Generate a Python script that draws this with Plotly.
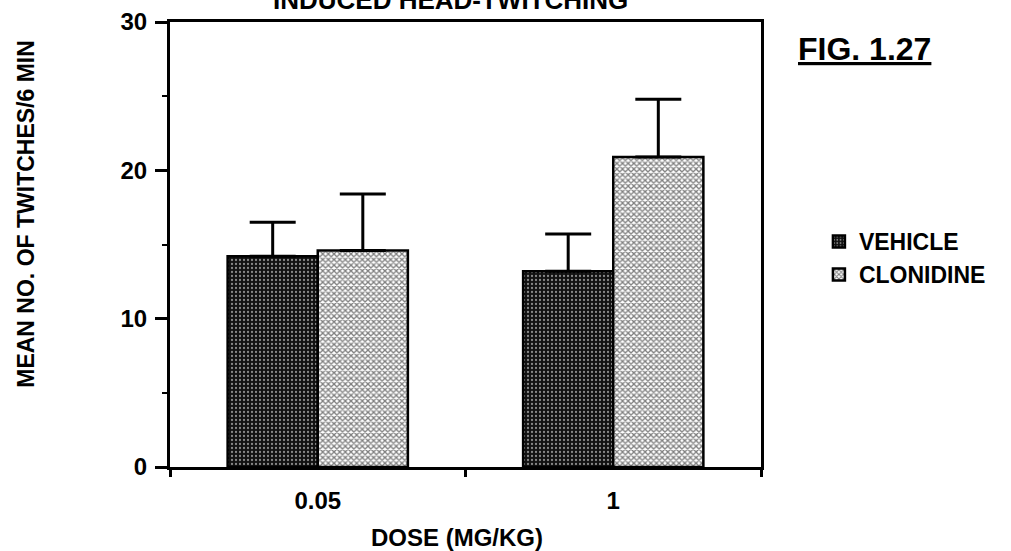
import plotly.graph_objects as go

# Dose groups and treatment means (twitches per 6 min) with SEM
doses = ["0.05", "1"]
vehicle_mean = [14.2, 13.2]
vehicle_sem = [2.3, 2.5]
clonidine_mean = [14.6, 20.9]
clonidine_sem = [3.8, 3.9]
y_ticks = [0, 10, 20, 30]

FONT = "Liberation Sans"
TICKFONT = dict(family=FONT, size=24, color="black", weight="bold")

fig = go.Figure()

fig.add_trace(go.Bar(
    name="VEHICLE", x=doses, y=vehicle_mean,
    marker=dict(color="black", line=dict(color="black", width=2.5),
                pattern=dict(shape=".", fgcolor="white", bgcolor="#111",
                             size=4, solidity=0.25)),
    error_y=dict(type="data", symmetric=False, array=vehicle_sem,
                 arrayminus=[0, 0], color="black", thickness=3, width=23),
))
fig.add_trace(go.Bar(
    name="CLONIDINE", x=doses, y=clonidine_mean,
    marker=dict(color="white", line=dict(color="black", width=2.5),
                pattern=dict(shape="x", fgcolor="black", bgcolor="white",
                             size=4, solidity=0.55)),
    error_y=dict(type="data", symmetric=False, array=clonidine_sem,
                 arrayminus=[0, 0], color="black", thickness=3, width=23),
))

fig.update_layout(
    width=1011, height=551,
    margin=dict(l=170, r=250, t=22, b=84, autoexpand=False),
    paper_bgcolor="white", plot_bgcolor="white",
    barmode="group", bargap=0.39, bargroupgap=0,
    font=dict(family=FONT, color="black"),
    showlegend=True,
    legend=dict(x=1.098, y=0.555, xanchor="left", yanchor="top",
                font=dict(family=FONT, size=23, color="black", weight="bold"),
                bgcolor="rgba(0,0,0,0)", tracegroupgap=0),
)

fig.update_xaxes(
    type="category", range=[-0.5, 1.5], automargin=False,
    showline=True, linecolor="black", linewidth=3, mirror=True,
    ticks="outside", tickson="boundaries", ticklen=7, tickwidth=3,
    tickcolor="black", tickfont=TICKFONT, ticklabelstandoff=10,
    showgrid=False, zeroline=False,
)
fig.update_yaxes(
    range=[0, 30], tickvals=y_ticks, automargin=False,
    showline=True, linecolor="black", linewidth=3, mirror=True,
    ticks="outside", ticklen=12, tickwidth=3, tickcolor="black",
    minor=dict(ticks="outside", ticklen=5, tickwidth=2, dtick=5,
               tickcolor="black", showgrid=False),
    tickfont=TICKFONT, ticklabelstandoff=3,
    showgrid=False, zeroline=False,
)

# Titles and figure label
fig.add_annotation(text="INDUCED HEAD-TWITCHING", xref="paper", yref="paper",
                   x=0.475, y=1, yshift=5, yanchor="bottom", showarrow=False,
                   font=dict(family=FONT, size=26, color="black", weight="bold"))
fig.add_annotation(text="MEAN NO. OF TWITCHES/6 MIN", xref="paper", yref="paper",
                   x=-0.243, y=0.57, textangle=-90, showarrow=False,
                   xanchor="center", yanchor="middle",
                   font=dict(family=FONT, size=23, color="black", weight="bold"))
fig.add_annotation(text="DOSE (MG/KG)", xref="paper", yref="paper",
                   x=0.485, y=0, yshift=-70, showarrow=False, yanchor="middle",
                   font=dict(family=FONT, size=24, color="black", weight="bold"))
fig.add_annotation(text="<u>FIG. 1.27</u>", xref="paper", yref="paper",
                   x=1.175, y=0.94, showarrow=False, xanchor="center",
                   yanchor="middle",
                   font=dict(family=FONT, size=32, color="black", weight="bold"))

fig.write_html("out.html")
